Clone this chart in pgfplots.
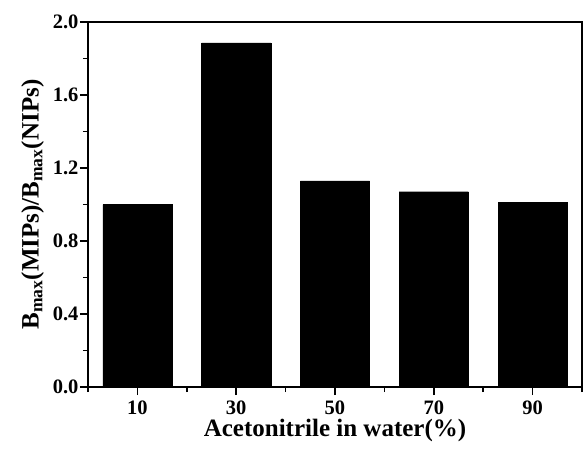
\documentclass[border=0pt]{standalone}
\usepackage{fontspec}
\setmainfont{Liberation Serif}
\usepackage{pgfplots}
\usetikzlibrary{calc}
\pgfplotsset{compat=1.18}
\begin{document}
\begin{tikzpicture}
\begin{axis}[
  scale only axis,
  width=494pt, height=365pt,
  xmin=0, xmax=100, ymin=0, ymax=2.0,
  xtick={10,30,50,70,90},
  minor xtick={0,20,40,60,80,100},
  ytick={0,0.4,0.8,1.2,1.6,2.0},
  minor ytick={0.2,0.6,1.0,1.4,1.8},
  y tick label style={xshift=2pt},
  yticklabel={\pgfmathprintnumber[fixed,fixed zerofill,precision=1]{\tick}},
  /pgf/number format/assume math mode=true,
  tick align=outside,
  xtick pos=bottom, ytick pos=left,
  major tick length=8pt, minor tick length=5pt,
  every tick/.style={line width=1.5pt,black},
  axis line style={line width=1.8pt},
  ticklabel style={font=\fontsize{20.5}{24}\selectfont\bfseries},
  x tick label style={yshift=-2pt},
  label style={font=\fontsize{25}{30}\selectfont\bfseries},
  xlabel={Acetonitrile in water(\%)},
  ylabel={B$_{\mathrm{\mathbf{max}}}$(MIPs)/B$_{\mathrm{\mathbf{max}}}$(NIPs)},
  xlabel style={yshift=2pt},
  ylabel style={yshift=2pt},
]
\addplot[ybar, bar width=14, fill=black, draw=black] coordinates {
  (10,1.00) (30,1.885) (50,1.13) (70,1.07) (90,1.012)
};
\end{axis}
\pgfresetboundingbox
\path ($(current axis.south west)+(-88pt,-61pt)$) rectangle ($(current axis.north east)+(5pt,22pt)$);
\end{tikzpicture}
\end{document}
